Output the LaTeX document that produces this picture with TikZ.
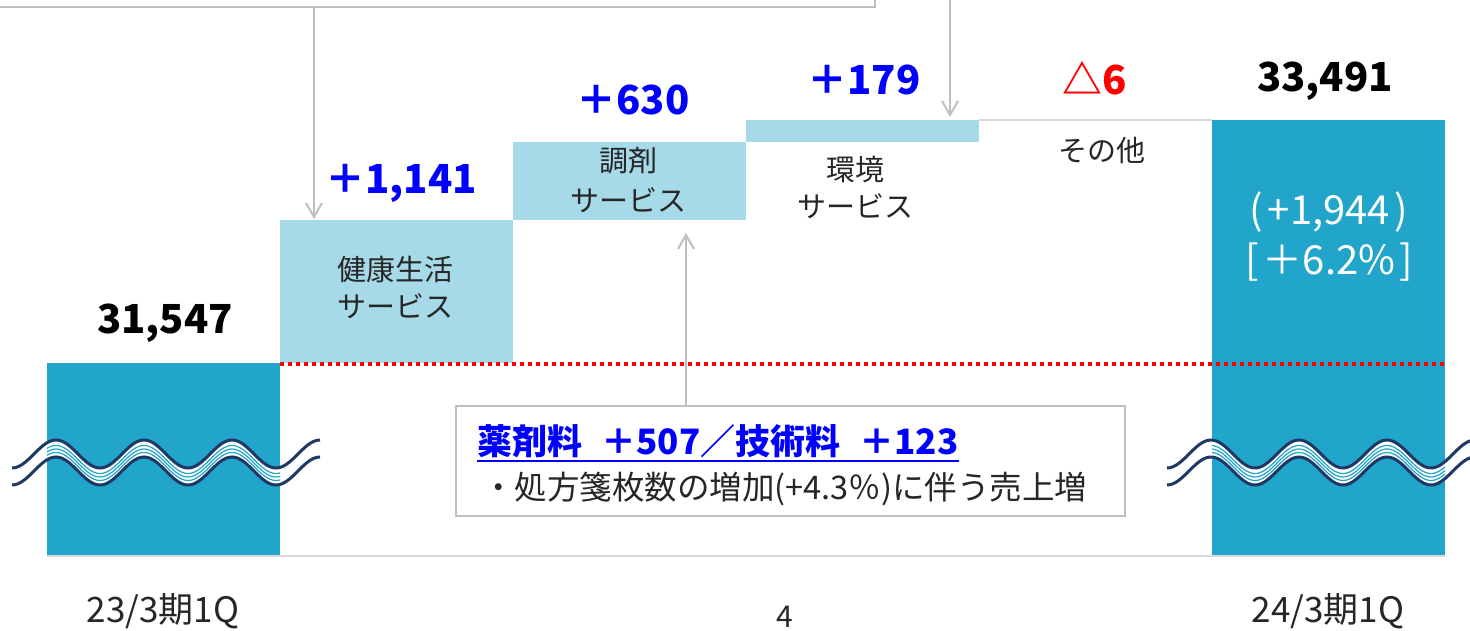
\documentclass[tikz,border=0pt]{standalone}
\usepackage{fontspec}
\setmainfont{Noto Sans CJK JP}
\usetikzlibrary{arrows.meta}
\definecolor{bardark}{HTML}{21A5CA}
\definecolor{barlight}{HTML}{A6DAE8}
\definecolor{navy}{HTML}{1F3864}
\definecolor{linegray}{HTML}{BFBFBF}
\definecolor{basegray}{HTML}{D9D9D9}
\definecolor{vblue}{HTML}{0000FF}
\definecolor{vred}{HTML}{FF0000}
\newcommand{\jfs}[1]{\fontsize{#1}{#1}\selectfont}
\begin{document}
\begin{tikzpicture}[x=1pt,y=-1pt,
  bignum/.style={font=\jfs{40}\bfseries, inner sep=0pt},
  boxtxt/.style={font=\jfs{29}, inner sep=0pt, text=black!85},
  axlbl/.style={font=\jfs{35}, inner sep=0pt, text=black!85},
  barbox/.style={inner sep=0pt, outer sep=0pt, anchor=north west},
  callarrow/.style={draw=linegray, line width=2pt, -{Straight Barb[length=14pt,width=16pt,line width=2pt]}},
  wavedark/.style={draw=navy, line width=3pt},
  wavethin/.style={draw=bardark, line width=1.2pt},
]
\useasboundingbox (0,0) rectangle (1470,631);
% bars
\node[barbox, fill=bardark, minimum width=233, minimum height=193] (b23) at (47,363) {};
\node[barbox, fill=barlight, minimum width=233, minimum height=143] (kenko) at (280,220) {};
\node[barbox, fill=barlight, minimum width=233, minimum height=78] (chozai) at (513,142) {};
\node[barbox, fill=barlight, minimum width=233, minimum height=22] (kankyo) at (746,120) {};
\node[barbox, minimum width=233, minimum height=0] (sonota) at (979,120) {};
\node[barbox, fill=bardark, minimum width=233, minimum height=436] (b24) at (1212,120) {};
\draw[basegray, line width=1.5pt] (sonota.north west) -- (sonota.north east);
% baseline
\draw[basegray, line width=2.5pt] (b23.south west) -- (b24.south east);
% red dotted line
\coordinate (rd1) at (280,364);
\coordinate (rd2) at (1445,364);
\draw[vred, line width=3.5pt, dash pattern=on 4pt off 4pt] (rd1) -- (rd2);
% top box (partially visible)
\node[draw=linegray, line width=2pt, minimum width=900, minimum height=120, anchor=south east, inner sep=0pt] (topbox) at (876,8) {};
\coordinate (a1s) at (314,8);
\coordinate (a1e) at (314,219);
\draw[callarrow] (a1s) -- (a1e);
\coordinate (a2s) at (950,-2);
\coordinate (a2e) at (950,117);
\draw[callarrow] (a2s) -- (a2e);
% callout box
\node[draw=linegray, line width=2pt, fill=white, minimum width=669, minimum height=110, anchor=north west, inner sep=0pt] (callout) at (455,405) {};
\coordinate (a3e) at (686,233);
\draw[callarrow] (callout.north -| a3e) -- (a3e);
\node[font=\jfs{35}\bfseries, text=vblue, inner sep=0pt, anchor=base west] (c1) at (477,454) {薬剤料\hspace{0.55em}＋507／技術料\hspace{0.55em}＋123};
\draw[vblue, line width=2.5pt] ([yshift=-7pt]c1.base west) -- ([yshift=-7pt]c1.base east);
\node[font=\jfs{32.5}, text=black!85, inner sep=0pt, anchor=base west] (c2) at (482,499) {・処方箋枚数の増加(+4.3％)に伴う売上増};
% waves
\foreach \xa/\xb/\ba in {12/320/b23,1167/1480/b24}{
  \fill[white] plot[domain=\xa:\xb,samples=120] (\x,{454+14*cos((\x-\xa)/44*180)}) -- plot[domain=\xb:\xa,samples=120] (\x,{471+14*cos((\x-\xa)/44*180)}) -- cycle;
  \begin{scope}
    \clip (\ba.north west) rectangle (\ba.south east);
    \foreach \o in {459.5,463,466.5}{
      \draw[wavethin] plot[domain=\xa:\xb,samples=120] (\x,{\o+14*cos((\x-\xa)/44*180)});
    }
  \end{scope}
  \draw[wavedark] plot[domain=\xa:\xb,samples=120] (\x,{454+14*cos((\x-\xa)/44*180)});
  \draw[wavedark] plot[domain=\xa:\xb,samples=120] (\x,{471+14*cos((\x-\xa)/44*180)});
}
% values
\node[bignum] (v1) at (165,323) {31,547};
\node[bignum, text=vblue] (v2) at (401,183) {＋1,141};
\node[bignum, text=vblue] (v3) at (633,100) {＋630};
\node[bignum, text=vblue] (v4) at (864,80) {＋179};
\node[bignum, text=vred] (v5) at (1095,78) {△6};
\node[bignum] (v6) at (1325,81) {33,491};
% box labels
\node[boxtxt] (k1) at (395,270) {健康生活};
\node[boxtxt] (k2) at (395,306) {サービス};
\node[boxtxt] (t1) at (628,161) {調剤};
\node[boxtxt] (t2) at (628,200) {サービス};
\node[boxtxt] (e1) at (855,169) {環境};
\node[boxtxt] (e2) at (855,206) {サービス};
\node[boxtxt] (o1) at (1102,150) {その他};
\node[font=\jfs{40}, text=white, inner sep=0pt] (w1) at (1329,212) {(\hspace{0.12em}+1,944\hspace{0.12em})};
\node[font=\jfs{40}, text=white, inner sep=0pt] (w2) at (1329,262) {[\hspace{0.1em}＋6.2\%\hspace{0.1em}]};
% axis labels
\node[axlbl] (x1) at (163,611) {23/3期1Q};
\node[axlbl] (x2) at (1328,611) {24/3期1Q};
\node[font=\jfs{30}, inner sep=0pt, text=black!85] (pg) at (785,617) {4};
\end{tikzpicture}
\end{document}
